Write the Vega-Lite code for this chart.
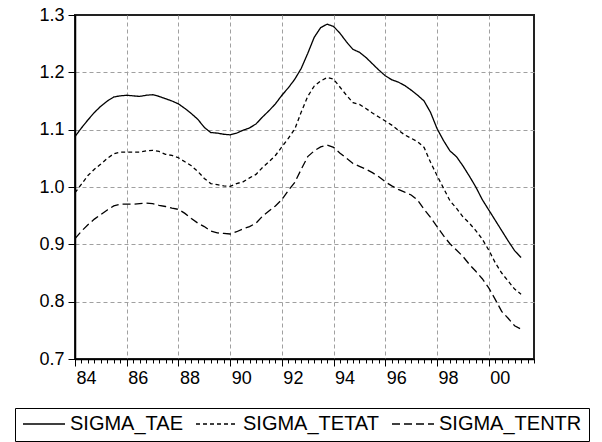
{
  "$schema": "https://vega.github.io/schema/vega-lite/v6.json",
  "width": 459,
  "height": 344,
  "autosize": "none",
  "padding": {"left": 75, "top": 15, "right": 68, "bottom": 83},
  "background": "white",
  "config": {
    "view": {"stroke": "#222", "strokeWidth": 2},
    "font": "Liberation Sans",
    "axis": {"labelFont": "Liberation Sans", "labelFontSize": 18, "labelColor": "black", "domainColor": "black", "tickColor": "black", "gridDash": [4, 3], "gridWidth": 1, "domainWidth": 1.5}
  },
  "data": {"values": [
    {"t": 1984.00, "TAE": 1.088, "TETAT": 0.990, "TENTR": 0.910},
    {"t": 1984.25, "TAE": 1.103, "TETAT": 1.005, "TENTR": 0.923},
    {"t": 1984.50, "TAE": 1.117, "TETAT": 1.020, "TENTR": 0.934},
    {"t": 1984.75, "TAE": 1.130, "TETAT": 1.031, "TENTR": 0.944},
    {"t": 1985.00, "TAE": 1.141, "TETAT": 1.040, "TENTR": 0.952},
    {"t": 1985.25, "TAE": 1.150, "TETAT": 1.050, "TENTR": 0.960},
    {"t": 1985.50, "TAE": 1.157, "TETAT": 1.058, "TENTR": 0.967},
    {"t": 1985.75, "TAE": 1.159, "TETAT": 1.061, "TENTR": 0.970},
    {"t": 1986.00, "TAE": 1.160, "TETAT": 1.061, "TENTR": 0.970},
    {"t": 1986.25, "TAE": 1.159, "TETAT": 1.061, "TENTR": 0.970},
    {"t": 1986.50, "TAE": 1.158, "TETAT": 1.061, "TENTR": 0.971},
    {"t": 1986.75, "TAE": 1.160, "TETAT": 1.063, "TENTR": 0.972},
    {"t": 1987.00, "TAE": 1.161, "TETAT": 1.064, "TENTR": 0.971},
    {"t": 1987.25, "TAE": 1.158, "TETAT": 1.062, "TENTR": 0.968},
    {"t": 1987.50, "TAE": 1.154, "TETAT": 1.057, "TENTR": 0.966},
    {"t": 1987.75, "TAE": 1.150, "TETAT": 1.055, "TENTR": 0.963},
    {"t": 1988.00, "TAE": 1.145, "TETAT": 1.051, "TENTR": 0.961},
    {"t": 1988.25, "TAE": 1.137, "TETAT": 1.044, "TENTR": 0.954},
    {"t": 1988.50, "TAE": 1.128, "TETAT": 1.037, "TENTR": 0.945},
    {"t": 1988.75, "TAE": 1.118, "TETAT": 1.027, "TENTR": 0.937},
    {"t": 1989.00, "TAE": 1.104, "TETAT": 1.015, "TENTR": 0.931},
    {"t": 1989.25, "TAE": 1.095, "TETAT": 1.006, "TENTR": 0.923},
    {"t": 1989.50, "TAE": 1.094, "TETAT": 1.004, "TENTR": 0.920},
    {"t": 1989.75, "TAE": 1.092, "TETAT": 1.002, "TENTR": 0.919},
    {"t": 1990.00, "TAE": 1.091, "TETAT": 1.001, "TENTR": 0.918},
    {"t": 1990.25, "TAE": 1.094, "TETAT": 1.006, "TENTR": 0.922},
    {"t": 1990.50, "TAE": 1.099, "TETAT": 1.009, "TENTR": 0.927},
    {"t": 1990.75, "TAE": 1.103, "TETAT": 1.016, "TENTR": 0.931},
    {"t": 1991.00, "TAE": 1.110, "TETAT": 1.022, "TENTR": 0.937},
    {"t": 1991.25, "TAE": 1.122, "TETAT": 1.034, "TENTR": 0.949},
    {"t": 1991.50, "TAE": 1.133, "TETAT": 1.044, "TENTR": 0.958},
    {"t": 1991.75, "TAE": 1.145, "TETAT": 1.055, "TENTR": 0.967},
    {"t": 1992.00, "TAE": 1.160, "TETAT": 1.070, "TENTR": 0.978},
    {"t": 1992.25, "TAE": 1.173, "TETAT": 1.085, "TENTR": 0.994},
    {"t": 1992.50, "TAE": 1.188, "TETAT": 1.101, "TENTR": 1.008},
    {"t": 1992.75, "TAE": 1.207, "TETAT": 1.131, "TENTR": 1.031},
    {"t": 1993.00, "TAE": 1.233, "TETAT": 1.158, "TENTR": 1.053},
    {"t": 1993.25, "TAE": 1.261, "TETAT": 1.176, "TENTR": 1.063},
    {"t": 1993.50, "TAE": 1.278, "TETAT": 1.185, "TENTR": 1.070},
    {"t": 1993.75, "TAE": 1.284, "TETAT": 1.191, "TENTR": 1.073},
    {"t": 1994.00, "TAE": 1.280, "TETAT": 1.188, "TENTR": 1.069},
    {"t": 1994.25, "TAE": 1.268, "TETAT": 1.174, "TENTR": 1.059},
    {"t": 1994.50, "TAE": 1.253, "TETAT": 1.160, "TENTR": 1.050},
    {"t": 1994.75, "TAE": 1.240, "TETAT": 1.147, "TENTR": 1.041},
    {"t": 1995.00, "TAE": 1.235, "TETAT": 1.144, "TENTR": 1.036},
    {"t": 1995.25, "TAE": 1.226, "TETAT": 1.137, "TENTR": 1.031},
    {"t": 1995.50, "TAE": 1.215, "TETAT": 1.129, "TENTR": 1.025},
    {"t": 1995.75, "TAE": 1.204, "TETAT": 1.122, "TENTR": 1.018},
    {"t": 1996.00, "TAE": 1.194, "TETAT": 1.115, "TENTR": 1.009},
    {"t": 1996.25, "TAE": 1.187, "TETAT": 1.108, "TENTR": 1.002},
    {"t": 1996.50, "TAE": 1.183, "TETAT": 1.099, "TENTR": 0.996},
    {"t": 1996.75, "TAE": 1.177, "TETAT": 1.091, "TENTR": 0.991},
    {"t": 1997.00, "TAE": 1.169, "TETAT": 1.085, "TENTR": 0.986},
    {"t": 1997.25, "TAE": 1.160, "TETAT": 1.079, "TENTR": 0.977},
    {"t": 1997.50, "TAE": 1.150, "TETAT": 1.069, "TENTR": 0.961},
    {"t": 1997.75, "TAE": 1.130, "TETAT": 1.043, "TENTR": 0.947},
    {"t": 1998.00, "TAE": 1.102, "TETAT": 1.020, "TENTR": 0.931},
    {"t": 1998.25, "TAE": 1.081, "TETAT": 0.998, "TENTR": 0.915},
    {"t": 1998.50, "TAE": 1.063, "TETAT": 0.976, "TENTR": 0.901},
    {"t": 1998.75, "TAE": 1.053, "TETAT": 0.963, "TENTR": 0.890},
    {"t": 1999.00, "TAE": 1.037, "TETAT": 0.948, "TENTR": 0.879},
    {"t": 1999.25, "TAE": 1.019, "TETAT": 0.937, "TENTR": 0.865},
    {"t": 1999.50, "TAE": 1.000, "TETAT": 0.924, "TENTR": 0.853},
    {"t": 1999.75, "TAE": 0.978, "TETAT": 0.909, "TENTR": 0.840},
    {"t": 2000.00, "TAE": 0.960, "TETAT": 0.890, "TENTR": 0.824},
    {"t": 2000.25, "TAE": 0.942, "TETAT": 0.868, "TENTR": 0.804},
    {"t": 2000.50, "TAE": 0.924, "TETAT": 0.850, "TENTR": 0.783},
    {"t": 2000.75, "TAE": 0.906, "TETAT": 0.836, "TENTR": 0.771},
    {"t": 2001.00, "TAE": 0.889, "TETAT": 0.822, "TENTR": 0.758},
    {"t": 2001.25, "TAE": 0.877, "TETAT": 0.813, "TENTR": 0.752}
  ]},
  "transform": [
    {"fold": ["TAE", "TETAT", "TENTR"], "as": ["key", "v"]},
    {"lookup": "key", "from": {"data": {"values": [
      {"key": "TAE", "s": "SIGMA_TAE"},
      {"key": "TETAT", "s": "SIGMA_TETAT"},
      {"key": "TENTR", "s": "SIGMA_TENTR"}
    ]}, "key": "key", "fields": ["s"]}}
  ],
  "layer": [
    {
      "mark": {"type": "line", "color": "black", "strokeWidth": 1.3},
      "encoding": {
        "x": {"field": "t", "type": "quantitative",
          "scale": {"domain": [1984, 2001.75], "nice": false, "zero": false},
          "axis": {"orient": "bottom", "title": null, "values": [1984, 1986, 1988, 1990, 1992, 1994, 1996, 1998, 2000],
            "labelExpr": "slice(toString(datum.value), 2)", "labelAlign": "left", "labelOffset": 1, "labelPadding": 3,
            "tickSize": 7, "grid": true, "labelFlush": false, "labelOverlap": false,
            "gridColor": {"condition": {"test": "datum.value <= 1984", "value": "transparent"}, "value": "#a0a0a0"}}},
        "y": {"field": "v", "type": "quantitative",
          "scale": {"domain": [0.7, 1.3], "nice": false, "zero": false},
          "axis": {"title": null, "values": [0.7, 0.8, 0.9, 1.0, 1.1, 1.2, 1.3], "format": ".1f", "tickSize": 7, "labelPadding": 4, "grid": true,
            "gridColor": {"condition": {"test": "datum.value >= 1.29 || datum.value <= 0.71", "value": "transparent"}, "value": "#a0a0a0"}}},
        "strokeDash": {"field": "s", "type": "nominal",
          "scale": {"domain": ["SIGMA_TAE", "SIGMA_TETAT", "SIGMA_TENTR"], "range": [[1, 0], [4, 3], [8, 4]]},
          "legend": {"orient": "none", "legendX": -60, "legendY": 393, "direction": "horizontal", "title": null,
            "strokeColor": "black", "padding": 7, "symbolType": "stroke", "symbolSize": 1764, "symbolStrokeWidth": 1.3,
            "symbolStrokeColor": "black", "labelFont": "Liberation Sans", "labelFontSize": 20, "labelColor": "black",
            "labelOffset": 4, "columnPadding": 12, "labelLimit": 300, "clipHeight": 18}}
      }
    },
    {
      "mark": {"type": "line", "opacity": 0},
      "encoding": {
        "x": {"field": "t", "type": "quantitative",
          "axis": {"orient": "bottom", "title": null, "labels": false, "grid": false, "domain": false, "tickSize": 4,
            "values": [1984, 1984.25, 1984.5, 1984.75, 1985, 1985.25, 1985.5, 1985.75, 1986, 1986.25, 1986.5, 1986.75, 1987, 1987.25, 1987.5, 1987.75, 1988, 1988.25, 1988.5, 1988.75, 1989, 1989.25, 1989.5, 1989.75, 1990, 1990.25, 1990.5, 1990.75, 1991, 1991.25, 1991.5, 1991.75, 1992, 1992.25, 1992.5, 1992.75, 1993, 1993.25, 1993.5, 1993.75, 1994, 1994.25, 1994.5, 1994.75, 1995, 1995.25, 1995.5, 1995.75, 1996, 1996.25, 1996.5, 1996.75, 1997, 1997.25, 1997.5, 1997.75, 1998, 1998.25, 1998.5, 1998.75, 1999, 1999.25, 1999.5, 1999.75, 2000, 2000.25, 2000.5, 2000.75, 2001, 2001.25, 2001.5, 2001.75]}},
        "y": {"field": "v", "type": "quantitative"},
        "detail": {"field": "s"}
      }
    }
  ],
  "resolve": {"axis": {"x": "independent"}}
}
